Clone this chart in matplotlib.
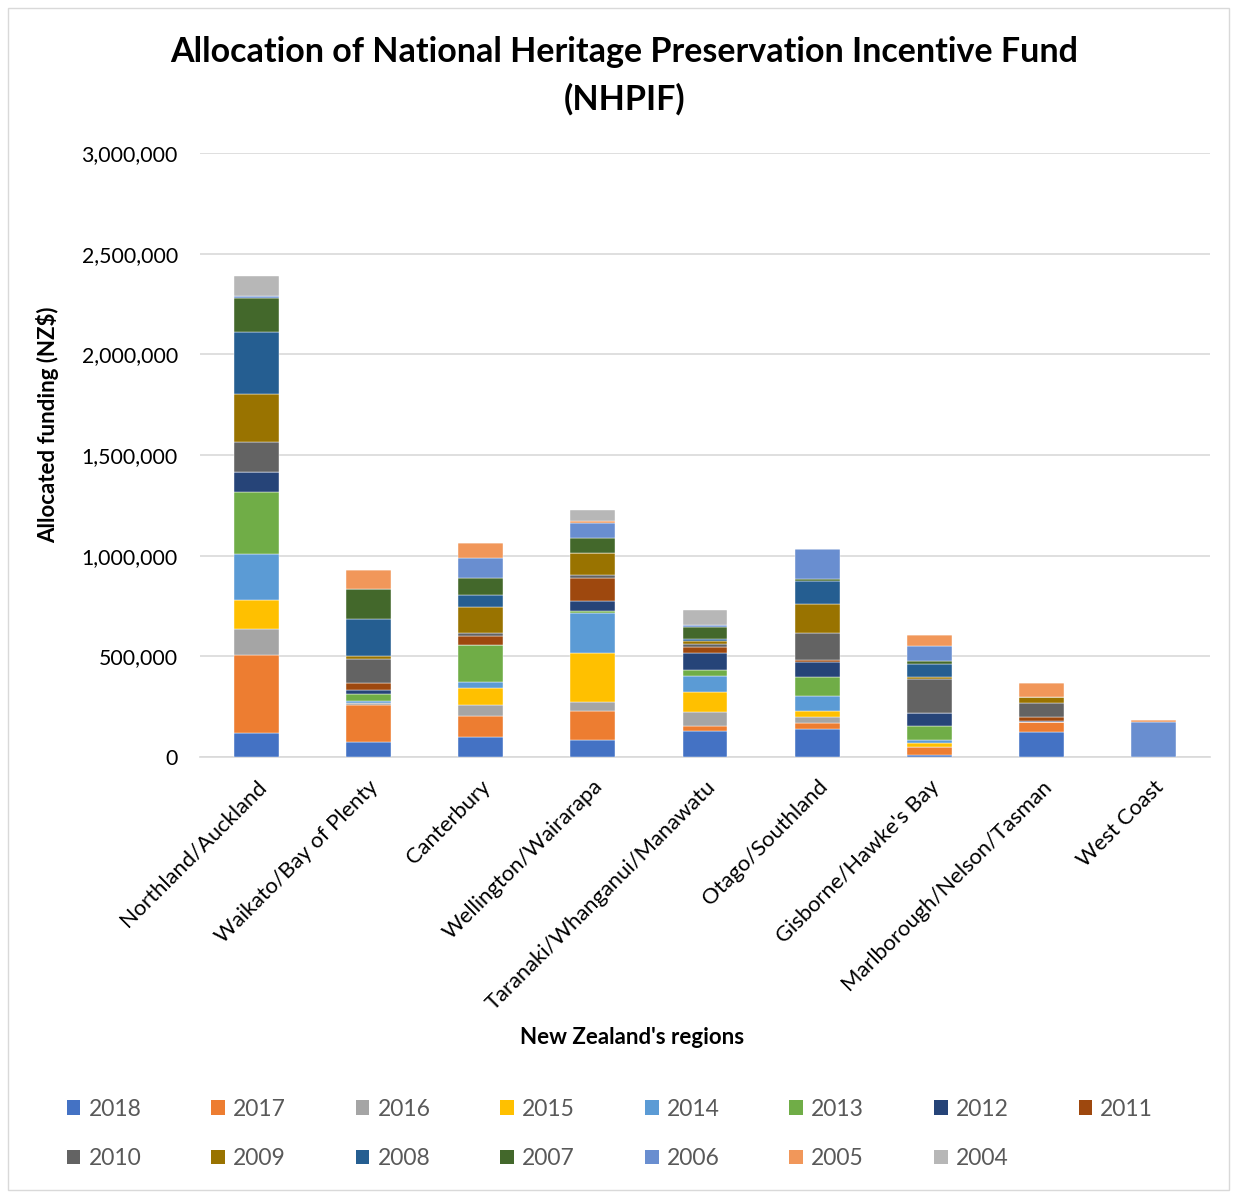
import matplotlib
matplotlib.use("Agg")
from matplotlib import pyplot as plt
from matplotlib.patches import Rectangle, Patch
from matplotlib.ticker import FuncFormatter
import numpy as np

plt.rcParams['font.family'] = ['Lato', 'DejaVu Sans']

regions = ["Northland/Auckland", "Waikato/Bay of Plenty", "Canterbury",
           "Wellington/Wairarapa", "Taranaki/Whanganui/Manawatu",
           "Otago/Southland", "Gisborne/Hawke's Bay",
           "Marlborough/Nelson/Tasman", "West Coast"]

years = ["2018", "2017", "2016", "2015", "2014", "2013", "2012", "2011",
         "2010", "2009", "2008", "2007", "2006", "2005", "2004"]

# funding per year, one value per region (NZ$)
f2018 = [121000, 75000, 99000, 85000, 129000, 139000, 8000, 124000, 0]
f2017 = [387000, 182000, 106000, 141000, 23000, 28000, 41000, 48000, 0]
f2016 = [127000, 12000, 51000, 45000, 70000, 31000, 0, 0, 0]
f2015 = [143000, 0, 88000, 245000, 101000, 28000, 23000, 0, 0]
f2014 = [230000, 8000, 28000, 197000, 81000, 78000, 13000, 0, 0]
f2013 = [306000, 35000, 185000, 12000, 26000, 91000, 71000, 0, 0]
f2012 = [104000, 23000, 0, 51000, 88000, 75000, 63000, 8000, 0]
f2011 = [0, 35000, 45000, 111000, 30000, 13000, 0, 20000, 0]
f2010 = [146000, 119000, 13000, 15000, 13000, 134000, 166000, 70000, 0]
f2009 = [240000, 13000, 129000, 109000, 17000, 144000, 10000, 26000, 0]
f2008 = [308000, 182000, 61000, 0, 10000, 113000, 65000, 0, 0]
f2007 = [166000, 152000, 86000, 78000, 58000, 10000, 17000, 0, 0]
f2006 = [13000, 0, 96000, 75000, 10000, 149000, 75000, 0, 172000]
f2005 = [0, 94000, 76000, 8000, 0, 0, 56000, 70000, 10000]
f2004 = [96000, 0, 0, 53000, 76000, 0, 0, 0, 0]

series = [f2018, f2017, f2016, f2015, f2014, f2013, f2012, f2011,
          f2010, f2009, f2008, f2007, f2006, f2005, f2004]

colors = ["#4472C4", "#ED7D31", "#A5A5A5", "#FFC000", "#5B9BD5", "#70AD47",
          "#264478", "#9E480E", "#636363", "#997300", "#255E91", "#43682B",
          "#698ED0", "#F1975A", "#B7B7B7"]

W, H = 1237, 1194
fig = plt.figure(figsize=(W / 100, H / 100), dpi=100)
fig.patches.append(Rectangle((8 / W, 4 / H), 1221 / W, 1182 / H, transform=fig.transFigure,
                             fill=False, edgecolor="#D9D9D9", linewidth=1))

ax = fig.add_axes([200 / W, (H - 757) / H, 1010 / W, 604 / H])

x = np.arange(len(regions))
bottom = np.zeros(len(regions))
for yr, vals, c in zip(years, series, colors):
    v = np.array(vals, dtype=float)
    ax.bar(x, v, width=0.4, bottom=bottom, color=c, label=yr,
           edgecolor="white", linewidth=0.3, zorder=3)
    bottom += v

ax.set_xlim(-0.5, len(regions) - 0.5)
ax.set_ylim(0, 3000000)
ax.set_yticks(np.arange(0, 3000001, 500000))
ax.yaxis.set_major_formatter(FuncFormatter(lambda v, p: f"{int(v):,}"))
ax.grid(axis="y", color="#D9D9D9", linewidth=1.2, zorder=0)
for s in ["top", "right", "left"]:
    ax.spines[s].set_visible(False)
ax.spines["bottom"].set_color("#D9D9D9")
ax.spines["bottom"].set_linewidth(1.2)
ax.tick_params(axis="y", length=0, labelsize=15.3, colors="black", pad=16)
ax.tick_params(axis="x", length=0, labelsize=15.8, colors="black", pad=14)

ax.set_xticks(x)
ax.set_xticklabels(regions, rotation=45, ha="right", va="top", rotation_mode="anchor")

fig.text(0.505, (H - 52) / H, "Allocation of National Heritage Preservation Incentive Fund",
         ha="center", va="center", fontsize=24.5, fontweight="bold")
fig.text(0.505, (H - 99) / H, "(NHPIF)", ha="center", va="center",
         fontsize=24.5, fontweight="bold")
fig.text(48 / W, (H - 425) / H, r"Allocated funding (NZ\$)", rotation=90,
         ha="center", va="center", fontsize=16, fontweight="bold")
fig.text(632 / W, (H - 1038) / H, "New Zealand's regions",
         ha="center", va="center", fontsize=16, fontweight="bold")

handles = [Patch(facecolor=c, label=y) for y, c in zip(years, colors)]
order = [0, 8, 1, 9, 2, 10, 3, 11, 4, 12, 5, 13, 6, 14, 7]
leg = fig.legend([handles[i] for i in order], [years[i] for i in order],
                 ncol=8, loc="upper left", bbox_to_anchor=(46 / W, (H - 1078) / H),
                 frameon=False, fontsize=16.5, handlelength=0.6, handleheight=0.6,
                 handletextpad=0.35, columnspacing=3.05, labelspacing=1.25)
for t in leg.get_texts():
    t.set_color("#595959")

fig.savefig("out.png", dpi=100)
